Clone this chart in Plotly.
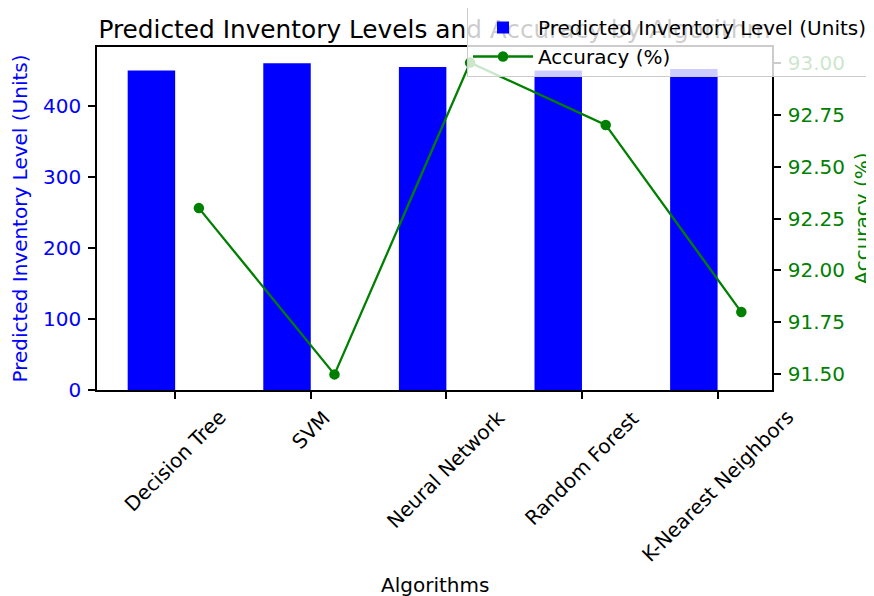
import plotly.graph_objects as go

algorithms = ["Decision Tree", "SVM", "Neural Network", "Random Forest", "K-Nearest Neighbors"]
inventory_levels = [450, 460, 455, 450, 452]
accuracy = [92.3, 91.5, 93.0, 92.7, 91.8]
left_ticks = [0, 100, 200, 300, 400]
right_ticks = [91.5, 91.75, 92.0, 92.25, 92.5, 92.75, 93.0]
title_text = "Predicted Inventory Levels and Accuracy by Algorithm"

bar_w = 0.35
idx = list(range(len(algorithms)))
bar_x = [i - bar_w / 2 for i in idx]
line_x = [i + bar_w / 2 for i in idx]

FONT = "DejaVu Sans"
FS = 20
BLUE = "#0000ff"
GREEN = "#008000"

# page body has an 8px margin: figure is drawn 8px in from the window's corner
W, H = 866, 588
ML, MR, MT, MB = 89, 102, 39, 206
PH = H - MT - MB

fig = go.Figure()
fig.add_trace(go.Bar(
    x=bar_x, y=inventory_levels, width=bar_w,
    marker=dict(color=BLUE, line=dict(width=0)),
    name="Predicted Inventory Level (Units)", yaxis="y",
))
fig.add_trace(go.Scatter(
    x=line_x, y=accuracy, mode="lines+markers",
    line=dict(color=GREEN, width=2.3),
    marker=dict(color=GREEN, size=10.5),
    name="Accuracy (%)", yaxis="y2",
))

ymax = max(inventory_levels) * 1.05
amin, amax = min(accuracy), max(accuracy)
apad = (amax - amin) * 0.05
xlo = min(bar_x) - bar_w / 2
xhi = max(line_x)
xpad = (xhi - xlo) * 0.05

annotations = []
for i, name in enumerate(algorithms):
    annotations.append(dict(
        x=i, y=0, xref="x", yref="paper", text=name, showarrow=False,
        textangle=-45, xanchor="center", yanchor="top", yshift=-13,
        font=dict(family=FONT, size=FS, color="#000000"),
    ))
annotations.append(dict(
    x=0.5, y=0, xref="paper", yref="paper", text="Algorithms", showarrow=False,
    xanchor="center", yanchor="middle", yshift=-195,
    font=dict(family=FONT, size=FS, color="#000000"),
))

title_y = (PH + MT - 20) / PH
shapes = [dict(
    type="line", xref="paper", yref="paper", x0=0, x1=1, y0=title_y, y1=title_y,
    line=dict(width=0, color="rgba(0,0,0,0)"), layer="above",
    label=dict(text=title_text, textposition="middle", yanchor="middle", padding=0,
               font=dict(family=FONT, size=24.8, color="#000000")),
)]

fig.update_layout(
    width=W, height=H,
    margin=dict(l=ML, r=MR, t=MT, b=MB, autoexpand=False),
    paper_bgcolor="white", plot_bgcolor="white",
    font=dict(family=FONT, size=FS, color="#000000"),
    barmode="overlay",
    showlegend=True,
    legend=dict(x=(865 - ML) / 675, y=(PH + MT + 1) / PH, xanchor="right", yanchor="top",
                itemwidth=60,
                bgcolor="rgba(255,255,255,0.8)", bordercolor="#cccccc", borderwidth=1,
                font=dict(family=FONT, size=FS, color="#000000")),
    xaxis=dict(range=[xlo - xpad, xhi + xpad], tickvals=idx, showticklabels=False,
               ticks="outside", ticklen=7, tickwidth=1.5, tickcolor="black",
               showline=True, linecolor="black", linewidth=1.5, mirror=True,
               showgrid=False, zeroline=False, automargin=False),
    yaxis=dict(range=[0, ymax], tickvals=left_ticks,
               ticks="outside", ticklen=7, tickwidth=1.5, tickcolor="black", ticklabelstandoff=3,
               tickfont=dict(color=BLUE, size=FS, family=FONT),
               title=dict(text="Predicted Inventory Level (Units)", standoff=12,
                          font=dict(color=BLUE, size=FS, family=FONT)),
               showline=True, linecolor="black", linewidth=1.5,
               showgrid=False, zeroline=False, automargin=False),
    yaxis2=dict(range=[amin - apad, amax + apad], tickvals=right_ticks, tickformat=".2f",
                overlaying="y", side="right",
                ticks="outside", ticklen=7, tickwidth=1.5, tickcolor="black", ticklabelstandoff=3,
                tickfont=dict(color=GREEN, size=FS, family=FONT),
                title=dict(text="Accuracy (%)", standoff=14,
                           font=dict(color=GREEN, size=FS, family=FONT)),
                showline=True, linecolor="black", linewidth=1.5,
                showgrid=False, zeroline=False, automargin=False),
    annotations=annotations,
    shapes=shapes,
)

fig.write_html("out.html")
